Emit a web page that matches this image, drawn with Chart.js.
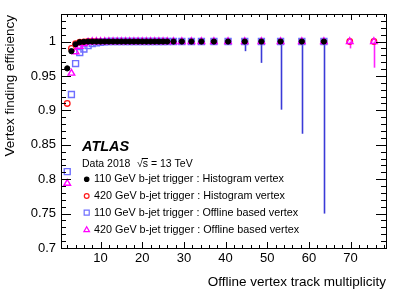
<!DOCTYPE html>
<html>
<head>
<meta charset="utf-8">
<script src="https://cdn.jsdelivr.net/npm/chart.js@4.4.1/dist/chart.umd.min.js"></script>
<style>
  body { margin: 0; background: #fff; }
</style>
</head>
<body>
<canvas id="effChart" width="407" height="292"></canvas>
<script>
// bin centres of the offline vertex track multiplicity
const multiplicity = [2, 3, 4, 5, 6, 7, 8, 9, 10, 11, 12, 13, 14, 15, 16, 17, 18, 19, 20, 21, 22, 23, 24, 25, 26,
    27.5, 29.5, 31.8, 34.2, 37.2, 40.6, 44.6, 48.6, 53.2, 58.3, 63.6, 69.8, 75.6];

// 110 GeV b-jet trigger : Histogram vertex
const effHist110 = [0.961, 0.986, 0.996, 0.999, 0.9995, 1, 1, 1, 1, 1, 1, 1, 1, 1, 1, 1, 1, 1, 1, 1, 1, 1, 1, 1, 1,
    1, 1, 1, 1, 1, 1, 1, 1, 1, 1, 1];
// 420 GeV b-jet trigger : Histogram vertex
const effHist420 = [0.910, 0.990, 0.997, 0.999, 0.9995, 1, 1, 1, 1, 1, 1, 1, 1, 1, 1, 1, 1, 1, 1, 1, 1, 1, 1, 1, 1,
    1, 1, 1, 1, 1, 1, 1, 1, 1, 1, 1, 1, 1];
// 110 GeV b-jet trigger : Offline based vertex
const effOff110 = [0.811, 0.923, 0.968, 0.984, 0.989, 0.994, 0.997, 0.998, 0.999, 0.9995, 1, 1, 1, 1, 1, 1, 1, 1, 1, 1, 1, 1, 1, 1, 1,
    1, 1, 1, 1, 1, 1, 1, 1, 1, 1, 1];
const errOff110 = [0, 0, 0, 0, 0, 0, 0, 0, 0, 0, 0, 0, 0, 0, 0, 0, 0, 0, 0, 0, 0, 0, 0, 0, 0,
    0, 0, 0, 0, 0, 0, 0.014, 0.031, 0.099, 0.134, 0.250];
// 420 GeV b-jet trigger : Offline based vertex
const effOff420 = [0.794, 0.954, 0.985, 0.993, 0.997, 0.999, 1, 1, 1, 1, 1, 1, 1, 1, 1, 1, 1, 1, 1, 1, 1, 1, 1, 1, 1,
    1, 1, 1, 1, 1, 1, 1, 1, 1, 1, 1, 1, 1];
const errOff420 = [0, 0, 0, 0, 0, 0, 0, 0, 0, 0, 0, 0, 0, 0, 0, 0, 0, 0, 0, 0, 0, 0, 0, 0, 0,
    0, 0, 0, 0, 0, 0, 0, 0, 0, 0, 0, 0.010, 0.038];

const xTicks = [10, 20, 30, 40, 50, 60, 70];
const yTicks = [0.7, 0.75, 0.8, 0.85, 0.9, 0.95, 1];

const legendLabels = [
    '110 GeV b-jet trigger : Histogram vertex',
    '420 GeV b-jet trigger : Histogram vertex',
    '110 GeV b-jet trigger : Offline based vertex',
    '420 GeV b-jet trigger : Offline based vertex'
];

const FONT = '"Liberation Sans", Arial, Helvetica, sans-serif';

const toPoints = (vals) => vals.map((v, i) => ({x: multiplicity[i], y: v}));

const datasets = [
    {label: legendLabels[0], data: toPoints(effHist110), pointStyle: 'circle', pointRadius: 2.6,
        backgroundColor: '#000', borderColor: '#000', borderWidth: 1, order: 1},
    {label: legendLabels[1], data: toPoints(effHist420), pointStyle: 'circle', pointRadius: 2.8,
        backgroundColor: 'rgba(0,0,0,0)', borderColor: '#ff1a1a', borderWidth: 1.3, order: 4},
    {label: legendLabels[2], data: toPoints(effOff110), errLow: errOff110, errColor: '#3a3ad8', pointStyle: 'rect', pointRadius: 4.2,
        backgroundColor: 'rgba(0,0,0,0)', borderColor: '#6f6fff', borderWidth: 1.4, order: 3},
    {label: legendLabels[3], data: toPoints(effOff420), errLow: errOff420, errColor: '#ff22ff', pointStyle: 'triangle', pointRadius: 3.8,
        backgroundColor: 'rgba(0,0,0,0)', borderColor: '#ff00ff', borderWidth: 1.4, order: 2}
];

// lower error bars, drawn under the markers
const errorBars = {
    id: 'errorBars',
    beforeDatasetsDraw(chart) {
        const {ctx, scales: {x, y}} = chart;
        ctx.save();
        ctx.lineWidth = 1.6;
        chart.data.datasets.forEach(ds => {
            if (!ds.errLow) return;
            ctx.strokeStyle = ds.errColor;
            ds.data.forEach((p, i) => {
                const e = ds.errLow[i];
                if (!e) return;
                const px = Math.round(x.getPixelForValue(p.x)) + 0.5;
                ctx.beginPath();
                ctx.moveTo(px, y.getPixelForValue(p.y));
                ctx.lineTo(px, y.getPixelForValue(p.y - e));
                ctx.stroke();
            });
        });
        ctx.restore();
    }
};

// ROOT style frame with ticks pointing inwards on all four sides
const rootFrame = {
    id: 'rootFrame',
    afterDraw(chart) {
        const {ctx, chartArea: a, scales: {x, y}} = chart;
        ctx.save();
        ctx.strokeStyle = '#000';
        ctx.lineWidth = 1;
        ctx.strokeRect(Math.round(a.left) + 0.5, Math.round(a.top) + 0.5,
            Math.round(a.right - a.left), Math.round(a.bottom - a.top));
        ctx.beginPath();
        // y ticks every 0.01, major every 0.05
        for (let k = 70; k <= 104; k++) {
            const py = Math.round(y.getPixelForValue(k / 100)) + 0.5;
            const len = k % 5 === 0 ? 10 : 5;
            ctx.moveTo(a.left, py); ctx.lineTo(a.left + len, py);
            ctx.moveTo(a.right, py); ctx.lineTo(a.right - len, py);
        }
        // x ticks every 2, major every 10
        for (let k = 2; k <= 78; k += 2) {
            const px = Math.round(x.getPixelForValue(k)) + 0.5;
            const len = k % 10 === 0 ? 6 : 3;
            ctx.moveTo(px, a.bottom); ctx.lineTo(px, a.bottom - len);
            ctx.moveTo(px, a.top); ctx.lineTo(px, a.top + len);
        }
        ctx.stroke();

        // axis titles
        ctx.fillStyle = '#000';
        ctx.font = '13.5px ' + FONT;
        ctx.textAlign = 'right';
        ctx.textBaseline = 'middle';
        ctx.fillText('Offline vertex track multiplicity', a.right, 282);
        ctx.save();
        ctx.translate(10, a.top + 1);
        ctx.rotate(-Math.PI / 2);
        ctx.fillText('Vertex finding efficiency', 0, 0);
        ctx.restore();

        // labels
        ctx.textAlign = 'left';
        ctx.font = 'italic bold 14.5px ' + FONT;
        ctx.fillText('ATLAS', 82, 147);
        ctx.font = '10.5px ' + FONT;
        ctx.fillText('Data 2018', 82, 164.5);
        ctx.fillText('\u221As = 13 TeV', 137, 164.5);
        const sw = ctx.measureText('\u221A').width;
        const s2 = ctx.measureText('s').width;
        ctx.beginPath();
        ctx.moveTo(137 + sw - 1, 158.5); ctx.lineTo(137 + sw + s2, 158.5);
        ctx.stroke();

        // legend
        const rows = [179.3, 196, 212.7, 230];
        ctx.font = '10.8px ' + FONT;
        chart.data.datasets.forEach((ds, i) => {
            ctx.save();
            ctx.strokeStyle = ds.borderColor;
            ctx.fillStyle = ds.backgroundColor;
            ctx.lineWidth = 1.2;
            Chart.helpers.drawPoint(ctx, {pointStyle: ds.pointStyle, radius: ds.pointRadius * 0.85, borderWidth: 1.2}, 86.7, rows[i]);
            ctx.restore();
            ctx.fillText(ds.label, 94, rows[i]);
        });
        ctx.restore();
    }
};

new Chart(document.getElementById('effChart'), {
    type: 'scatter',
    data: {datasets},
    options: {
        responsive: false,
        animation: false,
        layout: {padding: {left: 0, top: 14, right: 21, bottom: 0}},
        plugins: {legend: {display: false}, tooltip: {enabled: false}},
        scales: {
            x: {
                type: 'linear', min: 0.5, max: 78.5,
                afterBuildTicks: (s) => { s.ticks = xTicks.map(v => ({value: v})); },
                afterFit: (s) => { s.height = 44; },
                grid: {display: false, drawTicks: false},
                border: {display: false},
                ticks: {color: '#000', font: {family: FONT, size: 13}, padding: 3, maxRotation: 0, autoSkip: false}
            },
            y: {
                type: 'linear', min: 0.7, max: 1.04,
                afterBuildTicks: (s) => { s.ticks = yTicks.map(v => ({value: v})); },
                afterFit: (s) => { s.width = 61; },
                grid: {display: false, drawTicks: false},
                border: {display: false},
                ticks: {color: '#000', font: {family: FONT, size: 13}, padding: 5, autoSkip: false,
                    callback: (v) => String(+v.toFixed(2))}
            }
        }
    },
    plugins: [errorBars, rootFrame]
});
</script>
</body>
</html>
